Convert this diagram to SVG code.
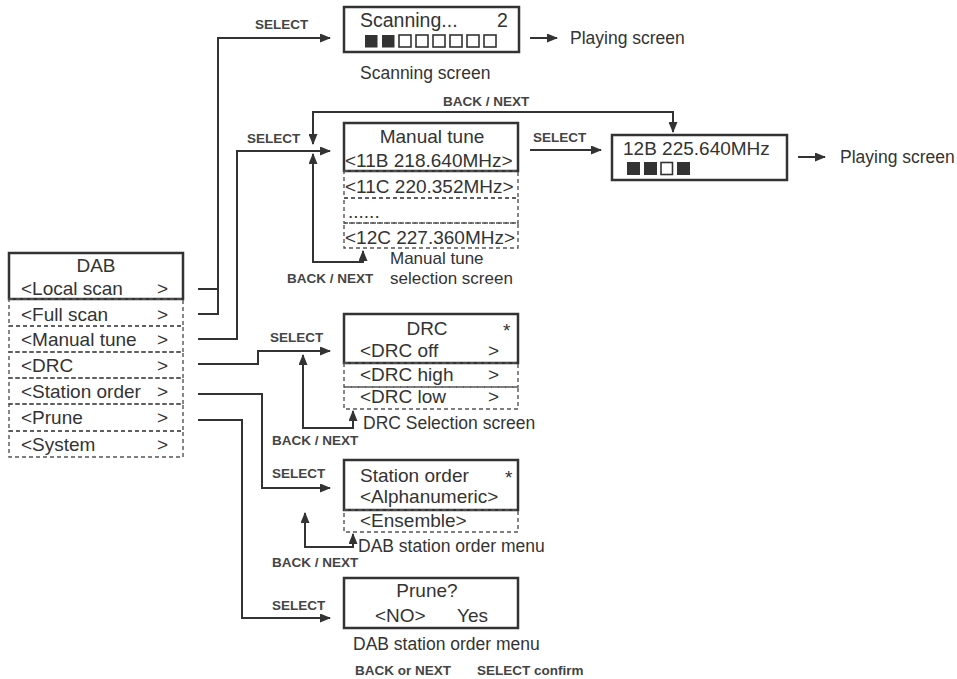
<svg xmlns="http://www.w3.org/2000/svg" width="957" height="679" viewBox="0 0 957 679">
<defs>
<marker id="ah" markerUnits="userSpaceOnUse" markerWidth="11" markerHeight="9" refX="10" refY="4.5" orient="auto-start-reverse">
<path d="M0,0 L11,4.5 L0,9 z" fill="#333"/>
</marker>
<style>
text{font-family:"Liberation Sans",Arial,sans-serif;fill:#333}
.m{font-size:19px}
.l{font-size:17.5px}
.s{font-size:13.5px;font-weight:bold;fill:#444}
.solid{fill:none;stroke:#333;stroke-width:2.5}
.dash{fill:none;stroke:#555;stroke-width:1.4;stroke-dasharray:4 3}
.c{fill:none;stroke:#333;stroke-width:2}
.a{marker-end:url(#ah)}
.b{marker-start:url(#ah);marker-end:url(#ah)}
.f{fill:#333}
.h{fill:#fff;stroke:#333;stroke-width:1.6}
</style>
</defs>
<rect width="957" height="679" fill="#fff"/>

<g id="connectors">
<path class="c" d="M198,289 H218"/>
<path class="c a" d="M198,314 H218 V38 H330"/>
<path class="c a" d="M198,339 H237 V151 H330"/>
<path class="c b" d="M313,144 V112 H673 V132"/>
<path class="c b" d="M313,154 V262 H363 V251"/>
<path class="c a" d="M530,150 H601"/>
<path class="c a" d="M530,38 H557"/>
<path class="c a" d="M798,157 H825"/>
<path class="c a" d="M198,364 H258 V351 H330"/>
<path class="c b" d="M303,355 V428 H353 V411"/>
<path class="c a" d="M198,394 H262 V488 H330"/>
<path class="c b" d="M305,513 V547 H353 V534"/>
<path class="c a" d="M198,420 H242 V618 H330"/>
</g>

<g id="labels">
<text class="s" x="255" y="29">SELECT</text>
<text class="l" x="570" y="44">Playing screen</text>
<text class="s" x="443" y="106">BACK / NEXT</text>
<text class="s" x="247" y="143">SELECT</text>
<text class="s" x="533" y="142">SELECT</text>
<text class="l" x="840" y="163">Playing screen</text>
<text class="s" x="287" y="283">BACK / NEXT</text>
<text class="l" x="390" y="264" style="font-size:17px">Manual tune</text>
<text class="l" x="390" y="284" style="font-size:17px">selection screen</text>
<text class="s" x="270" y="342">SELECT</text>
<text class="l" x="363" y="429">DRC Selection screen</text>
<text class="s" x="272" y="445">BACK / NEXT</text>
<text class="s" x="272" y="478">SELECT</text>
<text class="l" x="358" y="552">DAB station order menu</text>
<text class="s" x="272" y="567">BACK / NEXT</text>
<text class="s" x="272" y="610">SELECT</text>
</g>

<g id="dab-menu">
<rect class="solid" x="9" y="253" width="174" height="46"/>
<text class="m" x="96" y="272" text-anchor="middle">DAB</text>
<text class="m" x="21" y="295">&lt;Local scan</text><text class="m" x="157" y="295">&gt;</text>
<rect class="dash" x="9" y="299" width="174" height="27"/>
<text class="m" x="21" y="321">&lt;Full scan</text><text class="m" x="157" y="321">&gt;</text>
<rect class="dash" x="9" y="326" width="174" height="26"/>
<text class="m" x="21" y="346">&lt;Manual tune</text><text class="m" x="157" y="346">&gt;</text>
<rect class="dash" x="9" y="352" width="174" height="26"/>
<text class="m" x="21" y="372">&lt;DRC</text><text class="m" x="157" y="372">&gt;</text>
<rect class="dash" x="9" y="378" width="174" height="26"/>
<text class="m" x="21" y="398">&lt;Station order</text><text class="m" x="157" y="398">&gt;</text>
<rect class="dash" x="9" y="404" width="174" height="27"/>
<text class="m" x="21" y="424">&lt;Prune</text><text class="m" x="157" y="424">&gt;</text>
<rect class="dash" x="9" y="431" width="174" height="26"/>
<text class="m" x="21" y="451">&lt;System</text><text class="m" x="157" y="451">&gt;</text>
</g>

<g id="scanning-screen">
<rect class="solid" x="344" y="7" width="175" height="45"/>
<text class="m" x="360" y="27" style="font-size:19.5px">Scanning...</text>
<text class="m" x="497" y="27" style="font-size:19.5px">2</text>
<rect class="f" x="365" y="35" width="12.5" height="12.5"/>
<rect class="f" x="382" y="35" width="12.5" height="12.5"/>
<rect class="h" x="399" y="35" width="12" height="12"/>
<rect class="h" x="416" y="35" width="12" height="12"/>
<rect class="h" x="433" y="35" width="12" height="12"/>
<rect class="h" x="450" y="35" width="12" height="12"/>
<rect class="h" x="467" y="35" width="12" height="12"/>
<rect class="h" x="484" y="35" width="12" height="12"/>
<text class="l" x="360" y="79">Scanning screen</text>
</g>

<g id="manual-tune">
<rect class="solid" x="344" y="123" width="174" height="48"/>
<text class="m" x="432" y="143" text-anchor="middle">Manual tune</text>
<text class="m" x="345" y="167">&lt;11B 218.640MHz&gt;</text>
<rect class="dash" x="344" y="171" width="174" height="27"/>
<text class="m" x="345" y="193">&lt;11C 220.352MHz&gt;</text>
<rect class="dash" x="344" y="198" width="174" height="25"/>
<text class="m" x="348" y="218">......</text>
<rect class="dash" x="344" y="223" width="174" height="25"/>
<text class="m" x="345" y="244">&lt;12C 227.360MHz&gt;</text>
</g>

<g id="tuned-screen">
<rect class="solid" x="612" y="135" width="175" height="45"/>
<text class="m" x="623" y="155">12B 225.640MHz</text>
<rect class="f" x="627" y="162" width="13" height="13"/>
<rect class="f" x="644" y="162" width="13" height="13"/>
<rect class="h" x="661" y="162.5" width="11.5" height="12"/>
<rect class="f" x="677" y="162" width="13" height="13"/>
</g>

<g id="drc">
<rect class="solid" x="344" y="314" width="174" height="49"/>
<text class="m" x="427" y="335" text-anchor="middle">DRC</text>
<text class="m" x="503" y="337">*</text>
<text class="m" x="360" y="357">&lt;DRC off</text><text class="m" x="488" y="357">&gt;</text>
<rect class="dash" x="344" y="363" width="174" height="24"/>
<text class="m" x="360" y="381">&lt;DRC high</text><text class="m" x="488" y="381">&gt;</text>
<rect class="dash" x="344" y="387" width="174" height="22"/>
<text class="m" x="360" y="403">&lt;DRC low</text><text class="m" x="488" y="403">&gt;</text>
</g>

<g id="station-order">
<rect class="solid" x="344" y="460" width="174" height="50"/>
<text class="m" x="360" y="482">Station order</text>
<text class="m" x="505" y="484">*</text>
<text class="m" x="360" y="503">&lt;Alphanumeric&gt;</text>
<rect class="dash" x="344" y="510" width="174" height="22"/>
<text class="m" x="360" y="527">&lt;Ensemble&gt;</text>
</g>

<g id="prune">
<rect class="solid" x="344" y="578" width="174" height="50"/>
<text class="m" x="427" y="597" text-anchor="middle">Prune?</text>
<text class="m" x="375" y="622">&lt;NO&gt;</text>
<text class="m" x="457" y="622">Yes</text>
<text class="l" x="353" y="650">DAB station order menu</text>
<text class="s" x="355" y="675">BACK or NEXT</text>
<text class="s" x="477" y="675">SELECT confirm</text>
</g>
</svg>
